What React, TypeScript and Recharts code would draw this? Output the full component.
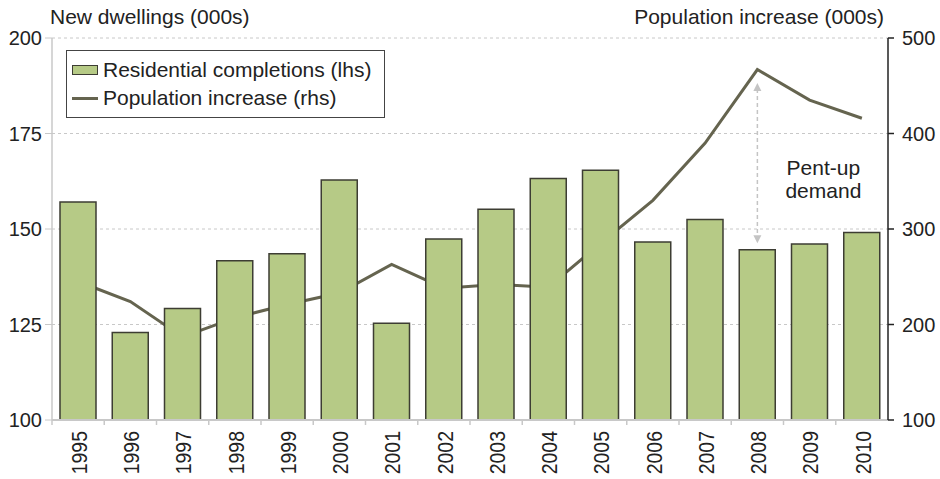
import { ComposedChart, Bar, Line, XAxis, YAxis, CartesianGrid, ReferenceLine } from 'recharts';

const years = ['1995', '1996', '1997', '1998', '1999', '2000', '2001', '2002', '2003', '2004', '2005', '2006', '2007', '2008', '2009', '2010'];
const completions = [157.1, 122.9, 129.2, 141.7, 143.5, 162.8, 125.3, 147.4, 155.2, 163.2, 165.4, 146.6, 152.5, 144.6, 146.1, 149.1];
const populationIncrease = [245, 224, 187, 207, 221, 233, 263, 238, 242, 239, 285, 330, 390, 467, 435, 416];

const lhsTicks = [100, 125, 150, 175, 200];
const rhsTicks = [100, 200, 300, 400, 500];

// pent-up demand arrow, in lhs units
const pentUpYear = '2008';
const pentUpTop = 188.2;
const pentUpBottom = 146.3;

const data = years.map((year, i) => ({
  year,
  completions: completions[i],
  population: populationIncrease[i],
}));

const W = 940;
const H = 479;
const AXIS_W = 52;
const FONT = '"Liberation Sans", Arial, Helvetica, sans-serif';
const BAR_FILL = '#b6ca86';
const BAR_STROKE = '#3d3d33';
const LINE_COLOR = '#65644f';
const GRID = '#c8c8c8';

function YearTick(props: any) {
  const { x, y, payload } = props;
  const half = (W - AXIS_W * 2) / years.length / 2;
  return (
    <g>
      <line x1={x - half} x2={x - half} y1={y - 11} y2={y - 6} stroke={GRID} strokeWidth={1.5} />
      <text
        transform={`translate(${x + 1},${y}) rotate(-90) scale(1,1.1)`}
        textAnchor="end"
        dominantBaseline="central"
        fontSize={19.5}
        fontFamily={FONT}
        fill="#222"
      >
        {payload.value}
      </text>
    </g>
  );
}

function PentUpArrow(props: any) {
  const { x1, y1, x2, y2 } = props;
  const top = Math.min(y1, y2);
  const bottom = Math.max(y1, y2);
  const c = '#c4c4c4';
  return (
    <g>
      <line x1={x1} x2={x2} y1={top + 6} y2={bottom - 6} stroke={c} strokeWidth={1.5} strokeDasharray="4 3" />
      <path d={`M${x1 - 4},${top + 8} L${x1},${top} L${x1 + 4},${top + 8} Z`} fill={c} />
      <path d={`M${x1 - 4},${bottom - 8} L${x1},${bottom} L${x1 + 4},${bottom - 8} Z`} fill={c} />
      <text x={x1 + 66} y={bottom - 68} textAnchor="middle" fontSize={21} fontFamily={FONT} fill="#222">Pent-up</text>
      <text x={x1 + 66} y={bottom - 45} textAnchor="middle" fontSize={21} fontFamily={FONT} fill="#222">demand</text>
    </g>
  );
}

function LegendBox() {
  return (
    <div
      style={{
        position: 'absolute',
        left: 66,
        top: 50,
        width: 317,
        height: 66,
        border: '1px solid #444',
        background: '#fff',
        fontFamily: FONT,
        fontSize: 21,
        color: '#222',
      }}
    >
      <div style={{ display: 'flex', alignItems: 'center', height: 28, marginTop: 5 }}>
        <span style={{ display: 'inline-block', width: 24, height: 8, background: BAR_FILL, border: `1px solid ${BAR_STROKE}`, marginLeft: 5, marginRight: 5 }} />
        <span>Residential completions (lhs)</span>
      </div>
      <div style={{ display: 'flex', alignItems: 'center', height: 28 }}>
        <span style={{ display: 'inline-block', width: 26, height: 3, background: LINE_COLOR, marginLeft: 5, marginRight: 5 }} />
        <span>Population increase (rhs)</span>
      </div>
    </div>
  );
}

export default function App() {
  return (
    <div style={{ position: 'absolute', left: 0, top: 0, width: W, height: H, background: '#fff', fontFamily: FONT }}>
      <div style={{ position: 'absolute', left: 50, top: 6, fontSize: 21, lineHeight: '21px', color: '#222' }}>
        New dwellings (000s)
      </div>
      <div style={{ position: 'absolute', left: 480, width: 404, top: 6, fontSize: 21, lineHeight: '21px', color: '#222', textAlign: 'right' }}>
        Population increase (000s)
      </div>
      <ComposedChart width={W} height={H} data={data} margin={{ top: 38, right: 0, bottom: 0, left: 0 }} barCategoryGap={0}>
        <CartesianGrid yAxisId="left" vertical={false} stroke={GRID} strokeDasharray="3 3" />
        <XAxis
          dataKey="year"
          height={59}
          axisLine={{ stroke: GRID, strokeWidth: 2 }}
          tickLine={false}
          tickSize={6}
          tickMargin={5}
          interval={0}
          tick={<YearTick />}
        />
        <YAxis
          yAxisId="left"
          orientation="left"
          width={AXIS_W}
          domain={[100, 200]}
          ticks={lhsTicks}
          axisLine={{ stroke: GRID, strokeWidth: 1.5 }}
          tickLine={{ stroke: GRID }}
          tickSize={7}
          tickMargin={3}
          tick={{ fill: '#222', fontSize: 20, fontFamily: FONT }}
        />
        <YAxis
          yAxisId="right"
          orientation="right"
          width={AXIS_W}
          domain={[100, 500]}
          ticks={rhsTicks}
          axisLine={{ stroke: '#222', strokeWidth: 1.5 }}
          tickLine={{ stroke: '#222', strokeWidth: 1.5 }}
          tickSize={6}
          tickMargin={8}
          tick={{ fill: '#222', fontSize: 20, fontFamily: FONT }}
        />
        <Line
          yAxisId="right"
          dataKey="population"
          name="Population increase (rhs)"
          type="linear"
          stroke={LINE_COLOR}
          strokeWidth={3}
          dot={false}
          activeDot={false}
          isAnimationActive={false}
          zIndex={250}
        />
        <Bar
          yAxisId="left"
          dataKey="completions"
          name="Residential completions (lhs)"
          fill={BAR_FILL}
          stroke={BAR_STROKE}
          strokeWidth={1.5}
          barSize={36}
          isAnimationActive={false}
        />
        <ReferenceLine
          yAxisId="left"
          segment={[{ x: pentUpYear, y: pentUpTop }, { x: pentUpYear, y: pentUpBottom }]}
          shape={<PentUpArrow />}
        />
      </ComposedChart>
      <LegendBox />
    </div>
  );
}
